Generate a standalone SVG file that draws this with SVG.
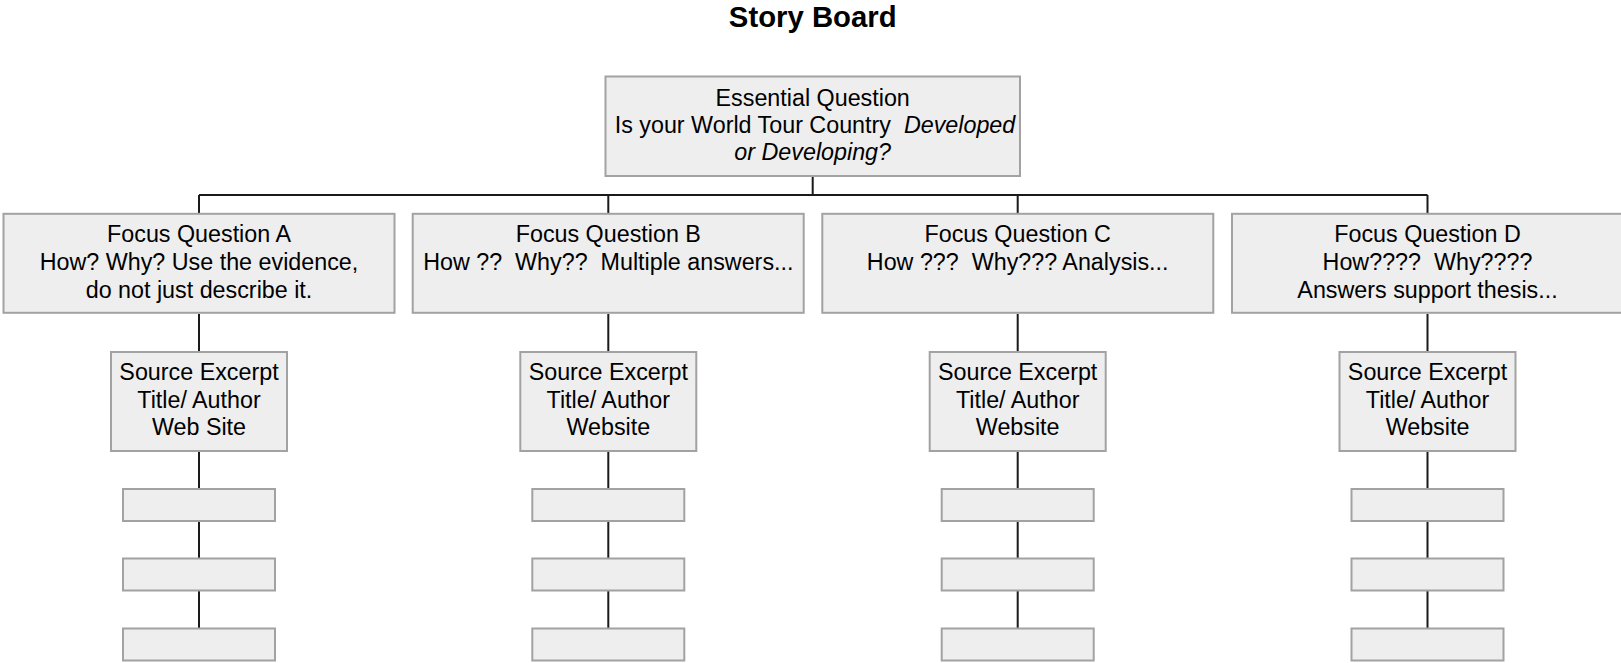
<svg xmlns="http://www.w3.org/2000/svg" width="1621" height="663" viewBox="0 0 1621 663">
<style>
.box{fill:#eeeeee;stroke:#a2a2a2;stroke-width:2}
.t{font-family:"Liberation Sans",Arial,sans-serif;font-size:23.3px;fill:#000;text-anchor:middle;white-space:pre}
.title{font-family:"Liberation Sans",Arial,sans-serif;font-size:29.3px;font-weight:bold;fill:#000;text-anchor:middle}
.c{stroke:#1a1a1a;stroke-width:2;fill:none}
</style>
<rect width="1621" height="663" fill="#ffffff"/>
<text class="title" x="812.7" y="26.7">Story Board</text>
<g id="connectors">
<path class="c" d="M812.7 176V195M199 195H1427.5M199 195V213M608.3 195V213M1017.7 195V213M1427.5 195V213"/>
<path class="c" d="M199 314V352M199 451V489M199 521V558M199 591V628"/>
<path class="c" d="M608.3 314V352M608.3 451V489M608.3 521V558M608.3 591V628"/>
<path class="c" d="M1017.7 314V352M1017.7 451V489M1017.7 521V558M1017.7 591V628"/>
<path class="c" d="M1427.5 314V352M1427.5 451V489M1427.5 521V558M1427.5 591V628"/>
</g>
<g id="essential">
<rect class="box" x="605.5" y="76.5" width="414.5" height="99.5"/>
<text class="t" x="812.7" y="106">Essential Question</text>
<text class="t" x="815" y="133">Is your World Tour Country  <tspan font-style="italic">Developed</tspan></text>
<text class="t" x="812.7" y="160.3" font-style="italic">or Developing?</text>
</g>
<g id="focusA">
<rect class="box" x="3.5" y="213.8" width="391" height="99"/>
<text class="t" x="199" y="242.3">Focus Question A</text>
<text class="t" x="199" y="270">How? Why? Use the evidence,</text>
<text class="t" x="199" y="297.7">do not just describe it.</text>
</g>
<g id="focusB">
<rect class="box" x="412.7" y="213.8" width="391" height="99"/>
<text class="t" x="608.3" y="242.3">Focus Question B</text>
<text class="t" x="608.3" y="270">How ??  Why??  Multiple answers...</text>
</g>
<g id="focusC">
<rect class="box" x="822.3" y="213.8" width="391" height="99"/>
<text class="t" x="1017.7" y="242.3">Focus Question C</text>
<text class="t" x="1017.7" y="270">How ???  Why??? Analysis...</text>
</g>
<g id="focusD">
<rect class="box" x="1232" y="213.8" width="391" height="99"/>
<text class="t" x="1427.5" y="242.3">Focus Question D</text>
<text class="t" x="1427.5" y="270">How????  Why????</text>
<text class="t" x="1427.5" y="297.7">Answers support thesis...</text>
</g>
<g id="sourceA">
<rect class="box" x="111" y="352" width="176" height="99"/>
<text class="t" x="199" y="380">Source Excerpt</text>
<text class="t" x="199" y="407.5">Title/ Author</text>
<text class="t" x="199" y="435.3">Web Site</text>
</g>
<g id="sourceB">
<rect class="box" x="520.3" y="352" width="176" height="99"/>
<text class="t" x="608.3" y="380">Source Excerpt</text>
<text class="t" x="608.3" y="407.5">Title/ Author</text>
<text class="t" x="608.3" y="435.3">Website</text>
</g>
<g id="sourceC">
<rect class="box" x="929.7" y="352" width="176" height="99"/>
<text class="t" x="1017.7" y="380">Source Excerpt</text>
<text class="t" x="1017.7" y="407.5">Title/ Author</text>
<text class="t" x="1017.7" y="435.3">Website</text>
</g>
<g id="sourceD">
<rect class="box" x="1339.5" y="352" width="176" height="99"/>
<text class="t" x="1427.5" y="380">Source Excerpt</text>
<text class="t" x="1427.5" y="407.5">Title/ Author</text>
<text class="t" x="1427.5" y="435.3">Website</text>
</g>
<g id="blankA1"><rect class="box" x="123" y="489" width="152" height="32"/></g>
<g id="blankA2"><rect class="box" x="123" y="558.5" width="152" height="32"/></g>
<g id="blankA3"><rect class="box" x="123" y="628.5" width="152" height="32"/></g>
<g id="blankB1"><rect class="box" x="532.3" y="489" width="152" height="32"/></g>
<g id="blankB2"><rect class="box" x="532.3" y="558.5" width="152" height="32"/></g>
<g id="blankB3"><rect class="box" x="532.3" y="628.5" width="152" height="32"/></g>
<g id="blankC1"><rect class="box" x="941.7" y="489" width="152" height="32"/></g>
<g id="blankC2"><rect class="box" x="941.7" y="558.5" width="152" height="32"/></g>
<g id="blankC3"><rect class="box" x="941.7" y="628.5" width="152" height="32"/></g>
<g id="blankD1"><rect class="box" x="1351.5" y="489" width="152" height="32"/></g>
<g id="blankD2"><rect class="box" x="1351.5" y="558.5" width="152" height="32"/></g>
<g id="blankD3"><rect class="box" x="1351.5" y="628.5" width="152" height="32"/></g>
</svg>
